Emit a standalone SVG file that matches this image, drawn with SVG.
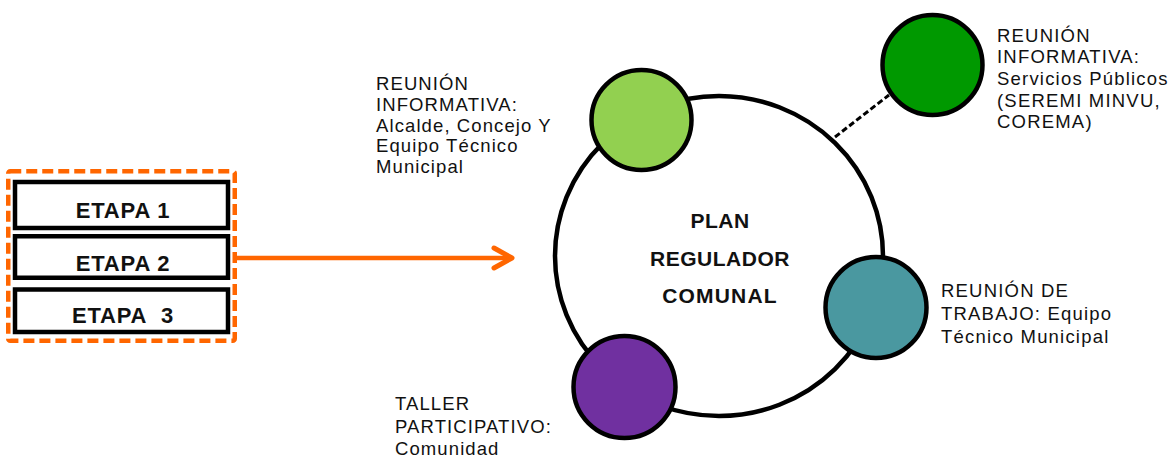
<svg xmlns="http://www.w3.org/2000/svg" width="1173" height="457" viewBox="0 0 1173 457">
<defs>
<style>
.lbl{font-family:"Liberation Sans",Arial,sans-serif;font-size:18.5px;letter-spacing:1.1px;fill:#111}
.etapa{font-family:"Liberation Sans",Arial,sans-serif;font-size:22px;font-weight:bold;fill:#111;text-anchor:middle;letter-spacing:0.8px}
.center{font-family:"Liberation Sans",Arial,sans-serif;font-size:21px;font-weight:bold;fill:#111;text-anchor:middle;letter-spacing:0.5px}
.box{fill:#fff;stroke:#000;stroke-width:4.5}
.node{stroke:#000;stroke-width:4.5}
</style>
</defs>
<rect width="1173" height="457" fill="#fff"/>
<g id="connectors">
<ellipse cx="719" cy="256" rx="164" ry="160" fill="#fff" stroke="#000" stroke-width="4.5"/>
<line x1="835" y1="137" x2="889" y2="95" stroke="#000" stroke-width="3" stroke-dasharray="6 3"/>
<line x1="237" y1="258" x2="510" y2="258" stroke="#FF6600" stroke-width="4.5"/>
<polyline points="494,248 512,258 494,268" fill="none" stroke="#FF6600" stroke-width="5" stroke-linecap="round" stroke-linejoin="round"/>
</g>
<g id="etapas">
<rect x="8.25" y="171.25" width="226.5" height="169.5" rx="2" fill="none" stroke="#FF6600" stroke-width="4.5" stroke-dasharray="11 5"/>
<g id="etapa1"><rect class="box" x="15" y="182" width="213" height="46"/><text class="etapa" x="123" y="218">ETAPA 1</text></g>
<g id="etapa2"><rect class="box" x="15" y="236.25" width="213" height="41.5"/><text class="etapa" x="123" y="270.5">ETAPA 2</text></g>
<g id="etapa3"><rect class="box" x="15" y="289.5" width="213" height="42.5"/><text class="etapa" x="123" y="322.5">ETAPA&#160; 3</text></g>
</g>
<g id="plan">
<text class="center" x="720" y="228">PLAN</text>
<text class="center" x="720" y="266">REGULADOR</text>
<text class="center" x="720" y="303" style="letter-spacing:1.2px">COMUNAL</text>
</g>
<g id="reunion-alcalde">
<circle class="node" cx="641.5" cy="120" r="50" fill="#92D050"/>
<text class="lbl" x="376"><tspan x="376" y="90">REUNIÓN</tspan><tspan x="376" y="110.75">INFORMATIVA:</tspan><tspan x="376" y="131.5">Alcalde, Concejo Y</tspan><tspan x="376" y="152.25">Equipo Técnico</tspan><tspan x="376" y="173">Municipal</tspan></text>
</g>
<g id="reunion-servicios">
<circle class="node" cx="932.5" cy="65" r="50" fill="#009900"/>
<text class="lbl" x="997" style="letter-spacing:1.2px"><tspan x="997" y="41.5">REUNIÓN</tspan><tspan x="997" y="63">INFORMATIVA:</tspan><tspan x="997" y="85">Servicios Públicos</tspan><tspan x="997" y="106.5">(SEREMI MINVU,</tspan><tspan x="997" y="128">COREMA)</tspan></text>
</g>
<g id="reunion-trabajo">
<circle class="node" cx="876" cy="307.5" r="50.5" fill="#4A98A0"/>
<text class="lbl" x="941" style="letter-spacing:1.2px"><tspan x="941" y="296.5">REUNIÓN DE</tspan><tspan x="941" y="320">TRABAJO: Equipo</tspan><tspan x="941" y="343">Técnico Municipal</tspan></text>
</g>
<g id="taller">
<circle class="node" cx="624.5" cy="387" r="51" fill="#7030A0"/>
<text class="lbl" x="395"><tspan x="395" y="410">TALLER</tspan><tspan x="395" y="433">PARTICIPATIVO:</tspan><tspan x="395" y="455">Comunidad</tspan></text>
</g>
</svg>
